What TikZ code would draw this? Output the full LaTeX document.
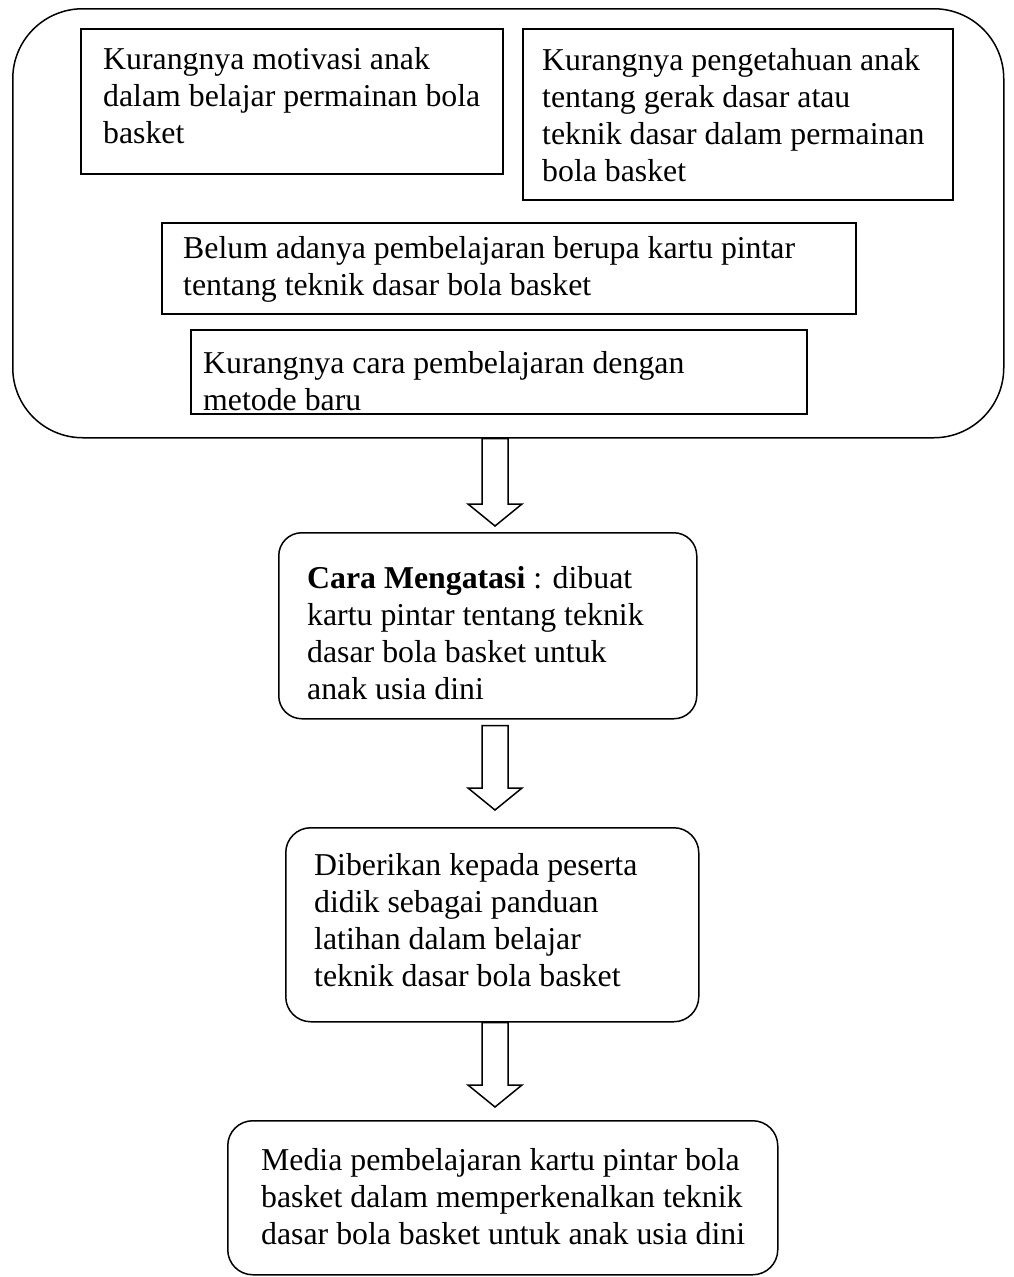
\documentclass[tikz,border=0pt]{standalone}
\usepackage{fontspec}
\setmainfont{Liberation Serif}
\usetikzlibrary{calc}

% block arrow from the bottom of #1 to the top of #2, #3 = start gap, #4 = gap before tip
\newcommand{\panahblok}[4]{%
  \draw[panah] ($(#1.south -| sumbu)+(-13,#3)$) -- ($(#2.north -| sumbu)+(-13,-#4-22)$)
    -- ($(#2.north -| sumbu)+(-27,-#4-22)$) -- ($(#2.north -| sumbu)+(0,-#4)$)
    -- ($(#2.north -| sumbu)+(27,-#4-22)$) -- ($(#2.north -| sumbu)+(13,-#4-22)$)
    -- ($(#1.south -| sumbu)+(13,#3)$) -- cycle;}

\begin{document}
\begin{tikzpicture}[x=1pt,y=-1pt,
  kotak/.style={draw,line width=1.5pt,anchor=north west,inner sep=0pt},
  kotakbulat/.style={kotak,rounded corners=#1},
  isi/.style={font=\fontsize{31.8}{37}\selectfont,align=left,anchor=north west,inner sep=0pt},
  panah/.style={draw,line width=1.5pt,fill=white,line join=miter}]
\useasboundingbox (0,0) rectangle (1014,1277);
\coordinate (sumbu) at (495,0);

% problems
\node[kotakbulat=70pt,minimum width=991pt,minimum height=429pt] (masalah) at (12,8) {};
\node[kotak,minimum width=422pt,minimum height=145pt] (motivasi) at (80,28) {};
\node[isi] (tmotivasi) at ($(motivasi.north west)+(23,19)$) {Kurangnya motivasi anak\\dalam belajar permainan bola\\basket};
\node[kotak,minimum width=430pt,minimum height=171pt] (pengetahuan) at (522,28) {};
\node[isi] (tpengetahuan) at ($(pengetahuan.north west)+(20,20)$) {Kurangnya pengetahuan anak\\tentang gerak dasar atau\\teknik dasar dalam permainan\\bola basket};
\node[kotak,minimum width=694pt,minimum height=91pt] (kartu) at (161,222) {};
\node[isi] (tkartu) at ($(kartu.north west)+(22,14)$) {Belum adanya pembelajaran berupa kartu pintar\\tentang teknik dasar bola basket};
\node[kotak,minimum width=616pt,minimum height=84pt] (metode) at (190,329) {};
\begin{scope}
  \clip (metode.north west) rectangle (metode.south east);
  \node[isi] (tmetode) at ($(metode.north west)+(13,22)$) {Kurangnya cara pembelajaran dengan\\metode baru};
\end{scope}

% solution steps
\node[kotakbulat=23pt,minimum width=418pt,minimum height=186pt] (atasi) at (278,532) {};
\node[isi] (tatasi) at ($(atasi.north west)+(29,34)$) {\textbf{Cara Mengatasi} : dibuat\\kartu pintar tentang teknik\\dasar bola basket untuk\\anak usia dini};
\node[kotakbulat=25pt,minimum width=413pt,minimum height=194pt] (diberikan) at (285,827) {};
\node[isi] (tdiberikan) at ($(diberikan.north west)+(29,26)$) {Diberikan kepada peserta\\didik sebagai panduan\\latihan dalam belajar\\teknik dasar bola basket};
\node[kotakbulat=25pt,minimum width=550pt,minimum height=154pt] (media) at (227,1120) {};
\node[isi] (tmedia) at ($(media.north west)+(34,28)$) {Media pembelajaran kartu pintar bola\\basket dalam memperkenalkan teknik\\dasar bola basket untuk anak usia dini};

\panahblok{masalah}{atasi}{0}{6}
\panahblok{atasi}{diberikan}{6}{17}
\panahblok{diberikan}{media}{0}{13}
\end{tikzpicture}
\end{document}
